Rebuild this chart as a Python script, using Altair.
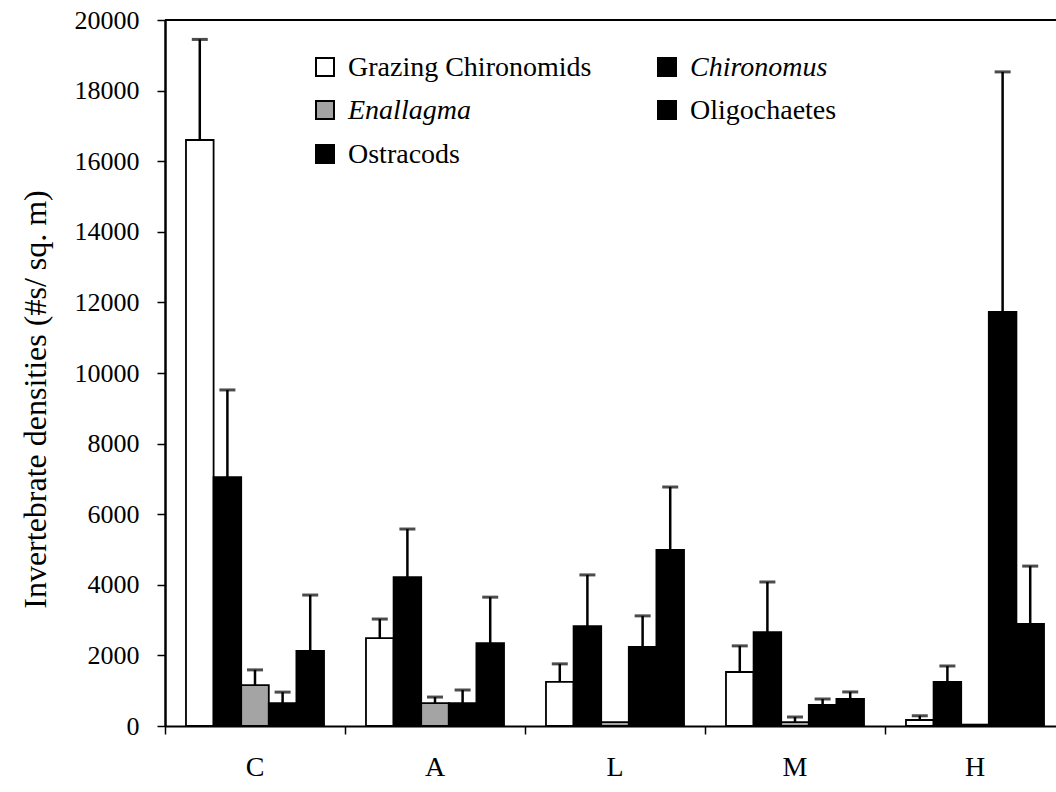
import altair as alt
import pandas as pd

# Sites (x groups) and taxa (bars within each group)
sites = ["C", "A", "L", "M", "H"]
taxa = ["Grazing Chironomids", "Chironomus", "Enallagma", "Oligochaetes", "Ostracods"]

# Mean densities (#/m^2) per site, one list per taxon
grazing_mean = [16600, 2490, 1250, 1530, 170]
chironomus_mean = [7050, 4220, 2830, 2660, 1250]
enallagma_mean = [1160, 650, 110, 110, 40]
oligochaete_mean = [650, 650, 2240, 600, 11730]
ostracod_mean = [2125, 2350, 4990, 765, 2890]

# Standard errors (upper error bars only)
grazing_se = [2850, 540, 510, 740, 120]
chironomus_se = [2470, 1360, 1450, 1420, 450]
enallagma_se = [430, 170, 0, 145, 0]
oligochaete_se = [310, 370, 880, 165, 6800]
ostracod_se = [1585, 1300, 1780, 200, 1640]

means = [grazing_mean, chironomus_mean, enallagma_mean, oligochaete_mean, ostracod_mean]
ses = [grazing_se, chironomus_se, enallagma_se, oligochaete_se, ostracod_se]

rows = []
for taxon, m_list, s_list in zip(taxa, means, ses):
    for site, m, s in zip(sites, m_list, s_list):
        rows.append({"site": site, "taxon": taxon, "mean": m, "upper": m + s, "se": s})
df = pd.DataFrame(rows)

FONT = "Liberation Serif, Times New Roman, serif"
fills = ["white", "black", "#a4a4a4", "black", "black"]

x_enc = alt.X(
    "site:N",
    sort=sites,
    scale=alt.Scale(range=[0, 900], paddingInner=0, paddingOuter=0),
    axis=alt.Axis(
        title=None,
        labelAngle=0,
        bandPosition=0,
        labelFont=FONT,
        labelFontSize=28,
        labelColor="black",
        labelPadding=19,
        tickSize=8,
        tickColor="black",
        tickWidth=1.5,
        domainColor="black",
        domainWidth=2,
    ),
)
xoff_enc = alt.XOffset("taxon:N", sort=taxa, scale=alt.Scale(paddingOuter=0.76, paddingInner=0))
y_scale = alt.Scale(domain=[0, 20000], nice=False)

bars = alt.Chart(df).mark_bar(stroke="black", strokeWidth=1.8).encode(
    x=x_enc,
    xOffset=xoff_enc,
    y=alt.Y(
        "mean:Q",
        scale=y_scale,
        axis=alt.Axis(
            values=list(range(0, 20001, 2000)),
            format="d",
            title="Invertebrate densities (#s/ sq. m)",
            titleFont=FONT,
            titleFontSize=32,
            titleFontWeight="normal",
            titleColor="black",
            titleX=-130,
            titleY=379,
            titleBaseline="middle",
            labelFont=FONT,
            labelFontSize=26,
            labelColor="black",
            labelPadding=18,
            tickSize=8,
            tickColor="black",
            tickWidth=1.5,
            domainColor="black",
            domainWidth=2.5,
            grid=False,
        ),
    ),
    color=alt.Color("taxon:N", scale=alt.Scale(domain=taxa, range=fills), legend=None),
)

err_df = df[df["se"] > 0]
stems = alt.Chart(err_df).mark_rule(color="black", strokeWidth=2.5).encode(
    x=alt.X("site:N", sort=sites),
    xOffset=alt.XOffset("taxon:N", sort=taxa),
    y=alt.Y("mean:Q"),
    y2="upper:Q",
)
caps = alt.Chart(err_df).mark_tick(color="black", thickness=3, size=16).encode(
    x=alt.X("site:N", sort=sites),
    xOffset=alt.XOffset("taxon:N", sort=taxa),
    y=alt.Y("upper:Q"),
)

# Top frame line (the right side runs off the page)
frame_top = alt.Chart(pd.DataFrame({"k": [0]})).mark_rule(color="black", strokeWidth=2).encode(
    x=alt.value(0), x2=alt.value(891), y=alt.value(0)
)

# Hand-built legend: two columns, italic genus names
legend_slots = [(151, 47), (493, 47), (151, 90), (493, 90), (151, 134)]
italic = {"Chironomus", "Enallagma"}
legend_layers = []
for taxon, fill, (lx, ly) in zip(taxa, fills, legend_slots):
    one = alt.Chart(pd.DataFrame({"taxon": [taxon]}))
    legend_layers.append(
        one.mark_rect(fill=fill, stroke="black", strokeWidth=2).encode(
            x=alt.value(lx), x2=alt.value(lx + 18), y=alt.value(ly - 9), y2=alt.value(ly + 9)
        )
    )
    legend_layers.append(
        one.mark_text(
            align="left",
            baseline="middle",
            font=FONT,
            fontSize=28,
            fontStyle="italic" if taxon in italic else "normal",
            color="black",
        ).encode(x=alt.value(lx + 32), y=alt.value(ly + 1), text="taxon:N")
    )

chart = (
    alt.layer(bars, stems, caps, frame_top, *legend_layers)
    .properties(
        width=891,
        height=706,
        autosize=alt.AutoSizeParams(type="none"),
        padding={"left": 165, "top": 20, "right": 0, "bottom": 66},
        background="white",
    )
    .configure(font=FONT)
    .configure_view(stroke=None)
)

chart.save("out.html", embed_options={"renderer": "svg", "actions": False})
